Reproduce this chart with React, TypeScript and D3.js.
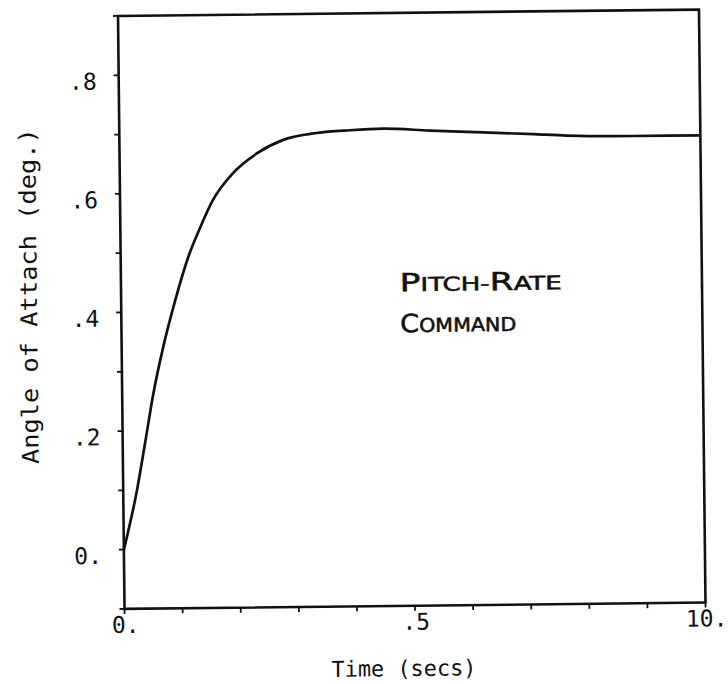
import React from "react";
import * as d3 from "d3";

// Data (time in secs, angle of attack in deg.)
const timeSecs = [0, 0.237, 0.383, 0.53, 0.711, 0.927, 1.159, 1.371, 1.6, 1.95, 2.37, 2.82, 3.4, 3.97, 4.54, 5.35, 6.26, 7.12, 7.7, 8.84, 10.0];
const alphaDeg = [0, 0.1, 0.178, 0.259, 0.339, 0.418, 0.491, 0.541, 0.588, 0.633, 0.666, 0.688, 0.699, 0.703, 0.705, 0.701, 0.697, 0.693, 0.69, 0.688, 0.688];

const xTickValues = [0, 1, 2, 3, 4, 5, 6, 7, 8, 9, 10];
const xLabelValues = [0, 5, 10];
const xLabelTexts = ["0.", ".5", "10."];
const yTickValues = [-0.1, 0, 0.1, 0.2, 0.3, 0.4, 0.5, 0.6, 0.7, 0.8, 0.9];
const yLabelValues = [0, 0.2, 0.4, 0.6, 0.8];
const yLabelTexts = ["0.", ".2", ".4", ".6", ".8"];

const xTitle = "Time (secs)";
const yTitle = "Angle of Attach (deg.)";
const noteLine1 = [["P", true], ["ITCH-", false], ["R", true], ["ATE", false]] as [string, boolean][];
const noteLine2 = [["C", true], ["OMMAND", false]] as [string, boolean][];

const W = 728;
const H = 684;
const left = 121.25;
const right = 702.25;
const top = 12.75;
const bottom = 605.75;
const cx = (left + right) / 2;
const cy = (top + bottom) / 2;
const mono = "'DejaVu Sans Mono', 'Liberation Mono', monospace";
const hand = "'DejaVu Sans Condensed', 'DejaVu Sans', sans-serif";
const ink = "#111";

export default function App() {
  const x = d3.scaleLinear().domain([0, 10]).range([left, right]);
  const y = d3.scaleLinear().domain([-0.1, 0.9]).range([bottom, top]);
  const pts = timeSecs.map((t, i) => [t, alphaDeg[i]] as [number, number]);
  const line = d3
    .line<[number, number]>()
    .x((d) => x(d[0]))
    .y((d) => y(d[1]))
    .curve(d3.curveMonotoneX);

  return (
    <svg
      width={W}
      height={H}
      viewBox={`0 0 ${W} ${H}`}
      style={{ position: "absolute", left: 0, top: 0, background: "#fff" }}
    >
      <rect x={0} y={0} width={W} height={H} fill="#fff" />
      <g transform={`rotate(-0.63 ${cx} ${cy})`}>
        {/* frame */}
        <rect x={left} y={top} width={right - left} height={bottom - top} fill="none" stroke={ink} strokeWidth={2.6} />
        {/* y ticks */}
        {yTickValues.map((v) => (
          <line key={"yt" + v} x1={left - 5} x2={left} y1={y(v)} y2={y(v)} stroke={ink} strokeWidth={1.8} />
        ))}
        {/* x ticks */}
        {xTickValues.map((v) => (
          <line key={"xt" + v} x1={x(v)} x2={x(v)} y1={bottom} y2={bottom + 5} stroke={ink} strokeWidth={1.8} />
        ))}
        {/* y tick labels */}
        {yLabelValues.map((v, i) => (
          <text key={"yl" + v} x={left - 22} y={y(v) + 14} textAnchor="end" fontFamily={mono} fontSize={23} fill={ink}>
            {yLabelTexts[i]}
          </text>
        ))}
        {/* x tick labels */}
        {xLabelValues.map((v, i) => (
          <text key={"xl" + v} x={x(v) + 1} y={bottom + 24} textAnchor="middle" fontFamily={mono} fontSize={23} fill={ink}>
            {xLabelTexts[i]}
          </text>
        ))}
        {/* axis titles */}
        <text x={400} y={676} textAnchor="middle" fontFamily={mono} fontSize={22} fill={ink} textLength={145} lengthAdjust="spacingAndGlyphs">
          {xTitle}
        </text>
        <text
          transform={`translate(37 ${292}) rotate(-90)`}
          textAnchor="middle"
          fontFamily={mono}
          fontSize={23}
          fill={ink}
          textLength={336}
          lengthAdjust="spacingAndGlyphs"
        >
          {yTitle}
        </text>
        {/* curve */}
        <path d={line(pts) || ""} fill="none" stroke={ink} strokeWidth={2.7} strokeLinejoin="round" />
        {/* annotation */}
        <text x={400} y={291} fontFamily={hand} fill={ink} stroke={ink} strokeWidth={0.5} textLength={162} lengthAdjust="spacingAndGlyphs">
          {noteLine1.map(([s, big], i) => (
            <tspan key={i} fontSize={big ? 25 : 19}>{s}</tspan>
          ))}
        </text>
        <text x={400} y={332} fontFamily={hand} fill={ink} stroke={ink} strokeWidth={0.5} textLength={116} lengthAdjust="spacingAndGlyphs">
          {noteLine2.map(([s, big], i) => (
            <tspan key={i} fontSize={big ? 25 : 19}>{s}</tspan>
          ))}
        </text>
      </g>
    </svg>
  );
}
